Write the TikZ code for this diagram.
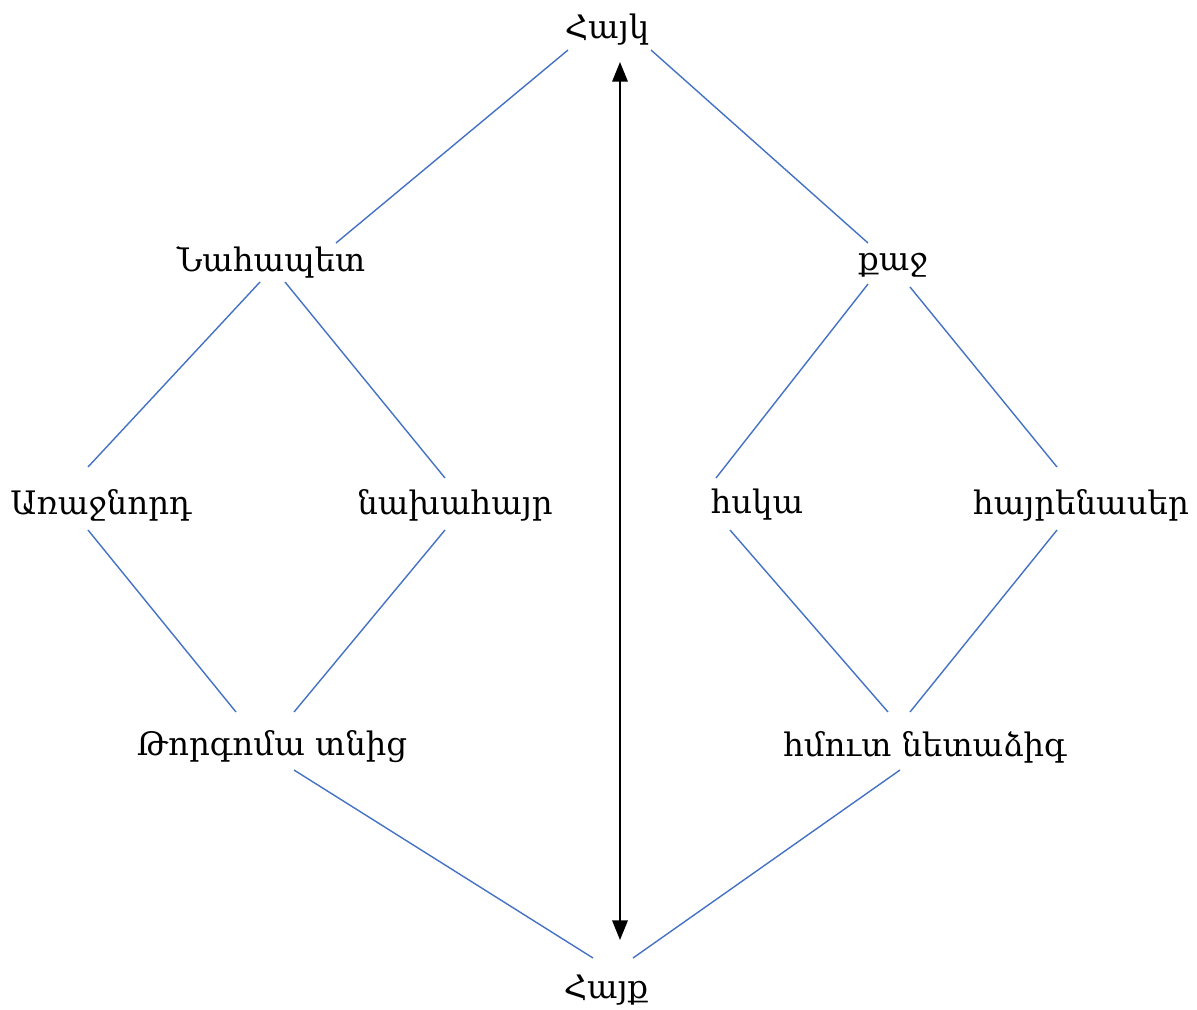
\documentclass[tikz,border=0pt]{standalone}
\usepackage{fontspec}
\setmainfont{DejaVu Serif}
\usepackage{tikz}
\usetikzlibrary{arrows.meta}

\begin{document}
\begin{tikzpicture}[
    x=0.025cm, y=-0.025cm,
    word/.style={inner sep=0pt, font=\fontsize{23}{27}\selectfont},
    link/.style={draw={rgb,255:red,68;green,114;blue,196}, line width=1pt},
    axis/.style={<->, >={Triangle[length=14pt,width=11pt]}, line width=1.4pt}
  ]
  \useasboundingbox (0,0) rectangle (1197,1009);

  % Words of the lattice
  \node[word] (hayk) at (607,30) {Հայկ};
  \node[word] (nahapet) at (271,262) {Նահապետ};
  \node[word] (kaj) at (893,265) {քաջ};
  \node[word] (arajnord) at (101,505) {Առաջնորդ};
  \node[word] (nakhahayr) at (455,505) {նախահայր};
  \node[word] (hska) at (757,505) {հսկա};
  \node[word] (hayrenaser) at (1081,505) {հայրենասեր};
  \node[word] (torgom) at (272,747) {Թորգոմա տնից};
  \node[word] (netadzig) at (925,747) {հմուտ նետաձիգ};
  \node[word] (hayq) at (606,990) {Հայք};

  % Links between the words
  \draw[link] ([shift={(-39,20)}]hayk.center) -- ([shift={(65,-19)}]nahapet.center);
  \draw[link] ([shift={(44,20)}]hayk.center) -- ([shift={(-25,-22)}]kaj.center);
  \draw[link] ([shift={(-11,20)}]nahapet.center) -- ([shift={(-13,-38)}]arajnord.center);
  \draw[link] ([shift={(14,20)}]nahapet.center) -- ([shift={(-10,-27)}]nakhahayr.center);
  \draw[link] ([shift={(-25,19)}]kaj.center) -- ([shift={(-41,-27)}]hska.center);
  \draw[link] ([shift={(17,22)}]kaj.center) -- ([shift={(-24,-38)}]hayrenaser.center);
  \draw[link] ([shift={(-13,25)}]arajnord.center) -- ([shift={(-36,-35)}]torgom.center);
  \draw[link] ([shift={(-10,25)}]nakhahayr.center) -- ([shift={(22,-35)}]torgom.center);
  \draw[link] ([shift={(-27,25)}]hska.center) -- ([shift={(-37,-35)}]netadzig.center);
  \draw[link] ([shift={(-24,25)}]hayrenaser.center) -- ([shift={(-15,-35)}]netadzig.center);
  \draw[link] ([shift={(22,23)}]torgom.center) -- ([shift={(-13,-32)}]hayq.center);
  \draw[link] ([shift={(-25,23)}]netadzig.center) -- ([shift={(27,-32)}]hayq.center);

  % Double arrow between top and bottom
  \coordinate (axtop) at (620,62);
  \coordinate (axbot) at (620,940);
  \draw[axis] (axtop) -- (axbot);
\end{tikzpicture}
\end{document}
